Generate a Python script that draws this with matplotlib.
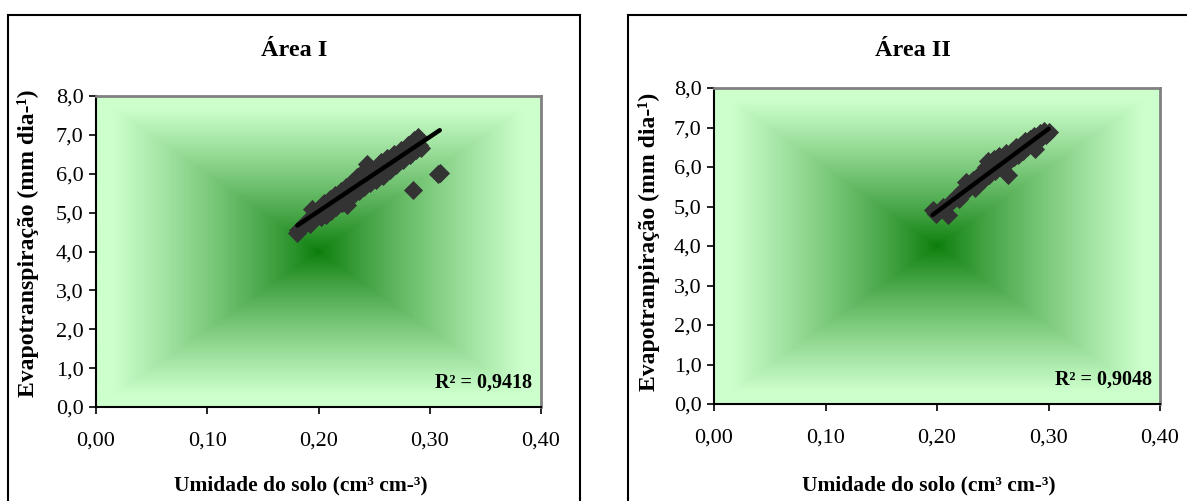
import numpy as np
import matplotlib
matplotlib.use("Agg")
import matplotlib.pyplot as plt
from matplotlib.patches import Rectangle

plt.rcParams['font.family'] = ['Liberation Serif', 'DejaVu Serif']

W, H = 1187, 501

# Área I: soil moisture (cm3 cm-3) vs evapotranspiration (mm/day)
area1_x = [0.181, 0.182, 0.185, 0.188, 0.190, 0.192, 0.195, 0.194, 0.198, 0.200,
           0.202, 0.204, 0.205, 0.207, 0.208, 0.210, 0.211, 0.213, 0.215, 0.216,
           0.218, 0.220, 0.221, 0.223, 0.225, 0.226, 0.228, 0.230, 0.231, 0.233,
           0.235, 0.236, 0.238, 0.240, 0.241, 0.243, 0.244, 0.246, 0.248, 0.250,
           0.252, 0.254, 0.256, 0.258, 0.260, 0.262, 0.264, 0.266, 0.268, 0.270,
           0.272, 0.274, 0.276, 0.278, 0.280, 0.282, 0.284, 0.286, 0.288, 0.289,
           0.290, 0.292, 0.285, 0.307, 0.309]
area1_y = [4.47, 4.55, 4.62, 4.70, 4.78, 4.72, 4.85, 5.10, 4.92, 5.00,
           4.88, 5.10, 5.25, 4.95, 5.18, 5.35, 5.05, 5.28, 5.45, 5.15,
           5.38, 5.55, 5.25, 5.48, 5.65, 5.20, 5.58, 5.80, 5.45, 5.70,
           5.92, 5.55, 5.82, 6.05, 5.65, 5.95, 6.25, 5.75, 5.98, 6.10,
           5.85, 6.15, 6.30, 5.95, 6.25, 6.40, 6.10, 6.35, 6.50, 6.22,
           6.45, 6.60, 6.35, 6.58, 6.75, 6.48, 6.70, 6.88, 6.60, 6.95,
           6.75, 6.65, 5.58, 6.00, 6.02]

# Área II
area2_x = [0.196, 0.199, 0.210, 0.205, 0.212, 0.216, 0.219, 0.222, 0.220, 0.226,
           0.228, 0.230, 0.232, 0.234, 0.236, 0.238, 0.240, 0.242, 0.244, 0.246,
           0.247, 0.249, 0.251, 0.252, 0.254, 0.256, 0.258, 0.260, 0.262, 0.264,
           0.265, 0.267, 0.269, 0.271, 0.273, 0.275, 0.277, 0.279, 0.281, 0.283,
           0.285, 0.287, 0.288, 0.290, 0.292, 0.294, 0.296, 0.298, 0.300]
area2_y = [4.90, 4.82, 4.78, 5.00, 5.10, 5.22, 5.30, 5.38, 5.20, 5.62,
           5.45, 5.55, 5.68, 5.48, 5.75, 5.60, 5.85, 5.70, 6.00, 6.15,
           5.80, 6.05, 6.20, 5.90, 6.10, 6.28, 6.00, 6.20, 6.35, 5.80,
           6.15, 6.40, 6.25, 6.50, 6.30, 6.55, 6.40, 6.65, 6.50, 6.72,
           6.55, 6.78, 6.45, 6.70, 6.85, 6.75, 6.90, 6.80, 6.88]

# Linear trend lines (slope, intercept) and their coefficient of determination
area1_fit = (19.14, 1.205)
area2_fit = (20.94, 0.682)
area1_r2 = "0,9418"
area2_r2 = "0,9048"

titles = ["Área I", "Área II"]
ylabels = ["Evapotranspiração (mm dia-¹)", "Evapotranpiração (mm dia-¹)"]
xlabel = "Umidade do solo (cm³ cm-³)"
xticks = [0.0, 0.1, 0.2, 0.3, 0.4]
xticklabels = ["0,00", "0,10", "0,20", "0,30", "0,40"]
yticks = [0, 1, 2, 3, 4, 5, 6, 7, 8]
yticklabels = ["0,0", "1,0", "2,0", "3,0", "4,0", "5,0", "6,0", "7,0", "8,0"]

fig = plt.figure(figsize=(W / 100, H / 100), dpi=100)


def fx(px):
    return px / W


def fy(py):
    return 1 - py / H


def gradient_image(n=400):
    # rectangular "from centre" fill: dark green in the middle, pale at the rim
    u = np.linspace(-1, 1, n)
    uu, vv = np.meshgrid(u, u)
    t = np.maximum(np.abs(uu), np.abs(vv))
    f = np.clip(t / 0.92, 0, 1) ** 0.85
    dark = np.array([10, 125, 10]) / 255
    light = np.array([204, 255, 204]) / 255
    return dark + (light - dark) * f[..., None]


panels = [
    dict(box=(8, 15, 580), axes=(96, 541, 96, 407), x=area1_x, y=area1_y,
         fit=area1_fit, r2=area1_r2, title_xy=(294, 50), xl_xy=(301, 485),
         yl_xy=(28, 243), r2_xy=(532, 383)),
    dict(box=(628, 15, 1200), axes=(714, 1160, 88, 404), x=area2_x, y=area2_y,
         fit=area2_fit, r2=area2_r2, title_xy=(913, 50), xl_xy=(929, 485),
         yl_xy=(649, 242), r2_xy=(1152, 380)),
]

grad = gradient_image()

for i, p in enumerate(panels):
    bx0, by0, bx1 = p["box"]
    fig.patches.append(Rectangle((fx(bx0), fy(H + 10)), fx(bx1) - fx(bx0),
                                 fy(by0) - fy(H + 10), transform=fig.transFigure,
                                 fill=False, edgecolor="black", linewidth=1.5,
                                 zorder=0))
    x0, x1, y0, y1 = p["axes"]
    ax = fig.add_axes([fx(x0), fy(y1), fx(x1) - fx(x0), fy(y0) - fy(y1)])
    ax.imshow(grad, extent=(0, 0.4, 0, 8), aspect="auto", origin="lower",
              interpolation="bilinear", zorder=0)
    ax.scatter(p["x"], p["y"], marker="D", s=95, color="#333333",
               linewidths=0, zorder=2)
    xs = np.array([min(p["x"]), max(p["x"])])
    slope, intercept = p["fit"]
    ax.plot(xs, slope * xs + intercept, color="black", linewidth=3.2,
            solid_capstyle="round", zorder=3)
    ax.set_xlim(0, 0.4)
    ax.set_ylim(0, 8)
    ax.set_xticks(xticks)
    ax.set_xticklabels(xticklabels)
    ax.set_yticks(yticks)
    ax.set_yticklabels(yticklabels)
    ax.tick_params(direction="out", length=5, width=1.2, color="black",
                   labelsize=16, pad=4)
    ax.tick_params(axis="x", pad=13)
    for s in ("left", "bottom"):
        ax.spines[s].set_color("black")
        ax.spines[s].set_linewidth(1.5)
    for s in ("top", "right"):
        ax.spines[s].set_color("#808080")
        ax.spines[s].set_linewidth(2)

    fig.text(fx(p["title_xy"][0]), fy(p["title_xy"][1]), titles[i],
             ha="center", va="center", fontsize=17.5, fontweight="bold")
    fig.text(fx(p["xl_xy"][0]), fy(p["xl_xy"][1]), xlabel,
             ha="center", va="center", fontsize=15.5, fontweight="bold")
    fig.text(fx(p["yl_xy"][0]), fy(p["yl_xy"][1]), ylabels[i],
             ha="center", va="center", fontsize=17, fontweight="bold",
             rotation=90)
    fig.text(fx(p["r2_xy"][0]), fy(p["r2_xy"][1]), "R² = " + p["r2"],
             ha="right", va="center", fontsize=14.5, fontweight="bold")

fig.savefig("out.png", dpi=100)
